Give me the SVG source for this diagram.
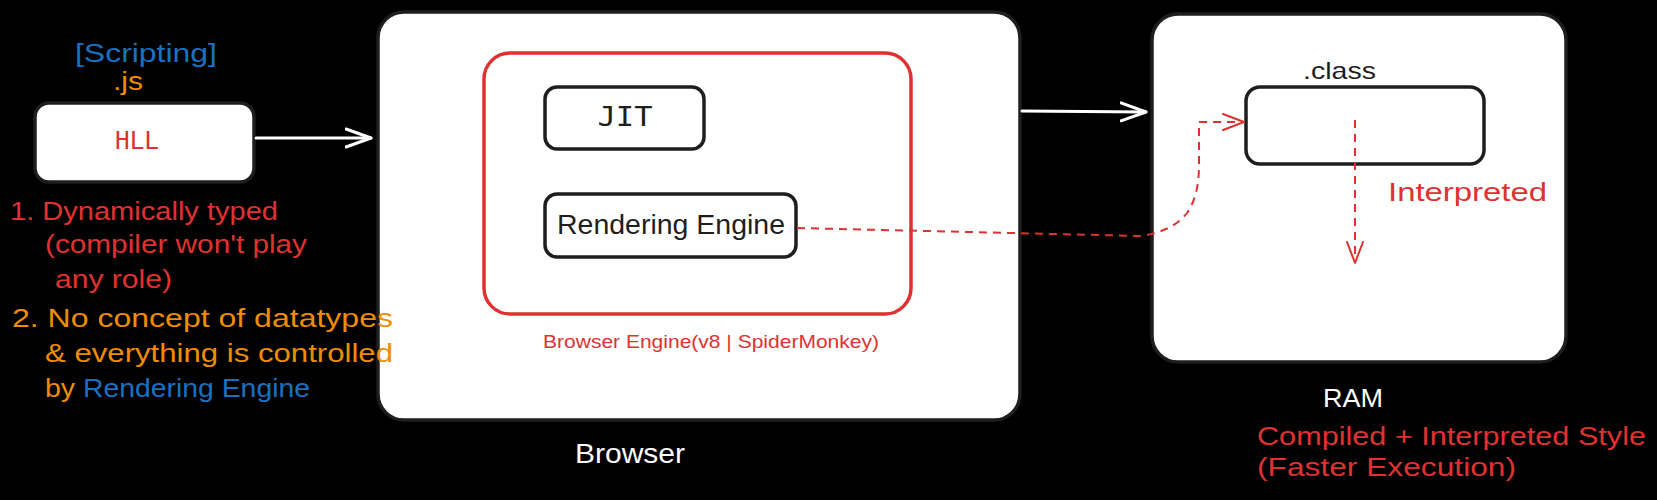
<svg xmlns="http://www.w3.org/2000/svg" width="1657" height="500" viewBox="0 0 1657 500">
<style>
.hand{font-family:"Liberation Sans","DejaVu Sans",sans-serif;}
.mono{font-family:"DejaVu Sans Mono","Liberation Mono",monospace;}
.red{fill:#e03131;}
.orange{fill:#f08c00;}
.blue{fill:#1971c2;}
.white{fill:#ffffff;}
.dark{fill:#1e1e1e;}
.box{fill:#ffffff;stroke:#1e1e1e;stroke-width:3.5;}
.conn{fill:none;stroke:#ffffff;stroke-width:3;stroke-linecap:round;}
.dash{fill:none;stroke:#e03131;stroke-width:2;stroke-dasharray:8 6;}
</style>
<defs>
<marker id="wArrow" markerUnits="userSpaceOnUse" markerWidth="30" markerHeight="24" refX="26" refY="10" orient="auto" viewBox="0 0 30 20">
<path d="M1,1 L26,10 L1,19" fill="none" stroke="#ffffff" stroke-width="3" stroke-linecap="round" stroke-linejoin="round"/>
</marker>
<marker id="rArrow" markerUnits="userSpaceOnUse" markerWidth="26" markerHeight="20" refX="22" refY="9" orient="auto" viewBox="0 0 26 18">
<path d="M1,1 L22,9 L1,17" fill="none" stroke="#e03131" stroke-width="2" stroke-linecap="round" stroke-linejoin="round"/>
</marker>
</defs>
<rect width="1657" height="500" fill="#000000"/>

<g id="browser">
<rect class="box" x="378" y="12" width="642" height="408" rx="26"/>
<text class="hand white" x="630" y="463" font-size="28" text-anchor="middle" textLength="110" lengthAdjust="spacingAndGlyphs">Browser</text>
</g>

<g id="browser-engine">
<rect x="484" y="53" width="427" height="261" rx="26" fill="none" stroke="#e03131" stroke-width="3.5"/>
<text class="hand red" x="543" y="348" font-size="19" textLength="336" lengthAdjust="spacingAndGlyphs">Browser Engine(v8 | SpiderMonkey)</text>
</g>

<g id="jit">
<rect class="box" x="545" y="87" width="159" height="62" rx="12"/>
<text class="mono dark" x="625" y="126" font-size="27" text-anchor="middle" textLength="55" lengthAdjust="spacingAndGlyphs">JIT</text>
</g>

<g id="rendering-engine">
<rect class="box" x="545" y="194" width="251" height="63" rx="12"/>
<text class="hand dark" x="557" y="234" font-size="27" textLength="228" lengthAdjust="spacingAndGlyphs">Rendering Engine</text>
</g>

<g id="ram">
<rect class="box" x="1152" y="14" width="414" height="348" rx="26"/>
<text class="hand white" x="1353" y="407" font-size="26" text-anchor="middle" textLength="60" lengthAdjust="spacingAndGlyphs">RAM</text>
<text class="hand red" x="1257" y="445" font-size="26" textLength="389" lengthAdjust="spacingAndGlyphs">Compiled + Interpreted Style</text>
<text class="hand red" x="1257" y="476" font-size="26" textLength="259" lengthAdjust="spacingAndGlyphs">(Faster Execution)</text>
</g>

<g id="class-box">
<rect class="box" x="1246" y="87" width="238" height="77" rx="14"/>
<text class="hand dark" x="1303" y="79" font-size="24" textLength="73" lengthAdjust="spacingAndGlyphs">.class</text>
</g>

<g id="hll">
<rect class="box" x="35" y="103" width="219" height="79" rx="14"/>
<text class="mono red" x="137" y="149" font-size="24" text-anchor="middle" textLength="44" lengthAdjust="spacingAndGlyphs">HLL</text>
<text class="hand blue" x="75" y="62" font-size="25" textLength="142" lengthAdjust="spacingAndGlyphs">[Scripting]</text>
<text class="hand orange" x="113" y="90" font-size="25" textLength="30" lengthAdjust="spacingAndGlyphs">.js</text>
</g>

<g id="notes">
<text class="hand red" x="10" y="220" font-size="26" textLength="268" lengthAdjust="spacingAndGlyphs">1. Dynamically typed</text>
<text class="hand red" x="45" y="253" font-size="26" textLength="262" lengthAdjust="spacingAndGlyphs">(compiler won't play</text>
<text class="hand red" x="55" y="288" font-size="26" textLength="117" lengthAdjust="spacingAndGlyphs">any role)</text>
<text class="hand orange" x="12" y="327" font-size="26" textLength="381" lengthAdjust="spacingAndGlyphs">2. No concept of datatypes</text>
<text class="hand orange" x="45" y="362" font-size="26" textLength="348" lengthAdjust="spacingAndGlyphs">&amp; everything is controlled</text>
<text class="hand orange" x="45" y="397" font-size="26" textLength="30" lengthAdjust="spacingAndGlyphs">by</text>
<text class="hand blue" x="83" y="397" font-size="26" textLength="227" lengthAdjust="spacingAndGlyphs">Rendering Engine</text>
</g>

<g id="interpreted-label">
<text class="hand red" x="1388" y="201" font-size="26" textLength="159" lengthAdjust="spacingAndGlyphs">Interpreted</text>
</g>

<g id="connectors">
<path class="conn" d="M256 138 L371 138" marker-end="url(#wArrow)"/>
<path class="conn" d="M1022 111 L1146 112" marker-end="url(#wArrow)"/>
<path class="dash" d="M797 228 L1140 236 Q1172 232 1187 213 Q1199 196 1199 165 L1199 122 L1244 122" marker-end="url(#rArrow)"/>
<path class="dash" d="M1355 120 L1355 263" marker-end="url(#rArrow)"/>
</g>
</svg>
